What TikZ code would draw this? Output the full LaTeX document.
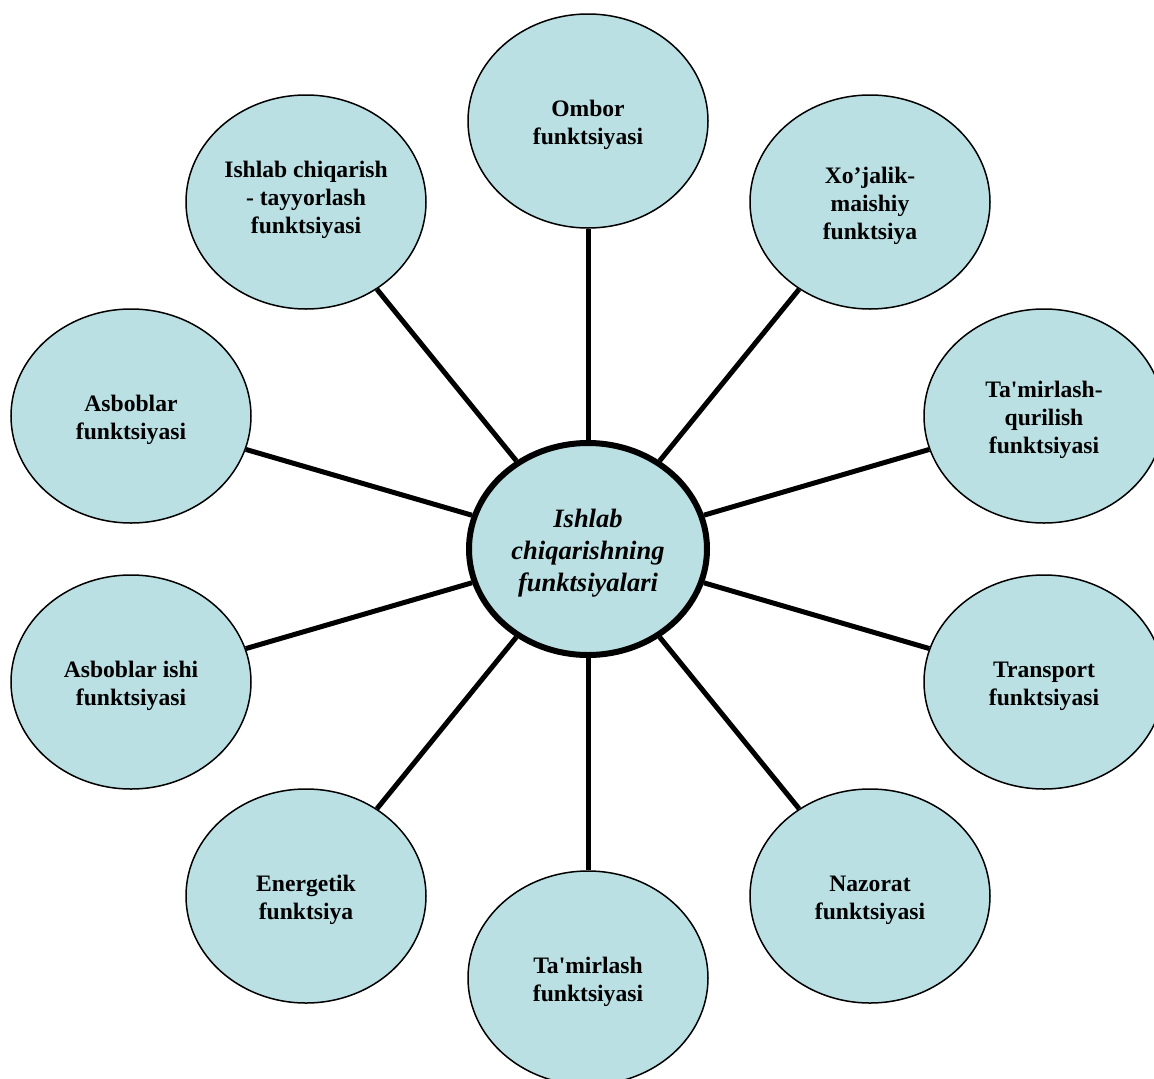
\documentclass[tikz,border=0pt]{standalone}
\usepackage{fontspec}
\setmainfont{Liberation Serif}[Ligatures=TeXOff]
\usetikzlibrary{shapes.geometric}
\definecolor{leaffill}{RGB}{186,224,227}
\tikzset{
  leaf/.style={ellipse, draw=black, line width=1.5pt, fill=leaffill,
    minimum width=240pt, minimum height=214pt, inner sep=0pt},
  lbl/.style={align=center, yshift=-4pt, inner sep=0pt,
    font=\fontsize{23.6}{28}\selectfont\bfseries},
  hub/.style={ellipse, draw=black, line width=6pt, fill=leaffill,
    minimum width=238pt, minimum height=212pt, inner sep=0pt},
  hublbl/.style={align=center, yshift=-4pt, inner sep=0pt,
    font=\fontsize{26.5}{32}\selectfont\bfseries\itshape},
  spoke/.style={line width=5pt, black}
}
\begin{document}
\begin{tikzpicture}[x=1pt,y=-1pt]
\useasboundingbox (0,0) rectangle (1154,1079);
\clip (0,0) rectangle (1154,1079);
\fill[white] (0,0) rectangle (1154,1079);
\node[leaf, label={[lbl]center:Ombor\\funktsiyasi}] (ombor) at (588,121) {};
\node[leaf, label={[lbl]center:Xo’jalik-\\maishiy\\funktsiya}] (xojalik) at (870,202) {};
\node[leaf, label={[lbl]center:Ta'mirlash-\\qurilish\\funktsiyasi}] (tamirq) at (1044,416) {};
\node[leaf, label={[lbl]center:Transport\\funktsiyasi}] (transport) at (1044,682) {};
\node[leaf, label={[lbl]center:Nazorat\\funktsiyasi}] (nazorat) at (870,896) {};
\node[leaf, label={[lbl]center:Ta'mirlash\\funktsiyasi}] (tamir) at (588,978) {};
\node[leaf, label={[lbl]center:Energetik\\funktsiya}] (energetik) at (306,896) {};
\node[leaf, label={[lbl]center:Asboblar ishi\\funktsiyasi}] (asbishi) at (131,682) {};
\node[leaf, label={[lbl]center:Asboblar\\funktsiyasi}] (asboblar) at (131,416) {};
\node[leaf, label={[lbl,yshift=6pt]center:Ishlab chiqarish\\- tayyorlash\\funktsiyasi}] (ishlab) at (306,202) {};
\node[hub, label={[hublbl]center:Ishlab\\chiqarishning\\funktsiyalari}] (hub) at (588,549) {};
\foreach \n in {ombor,xojalik,tamirq,transport,nazorat,tamir,energetik,asbishi,asboblar,ishlab}
  \draw[spoke] (hub) -- (\n);
\end{tikzpicture}
\end{document}
